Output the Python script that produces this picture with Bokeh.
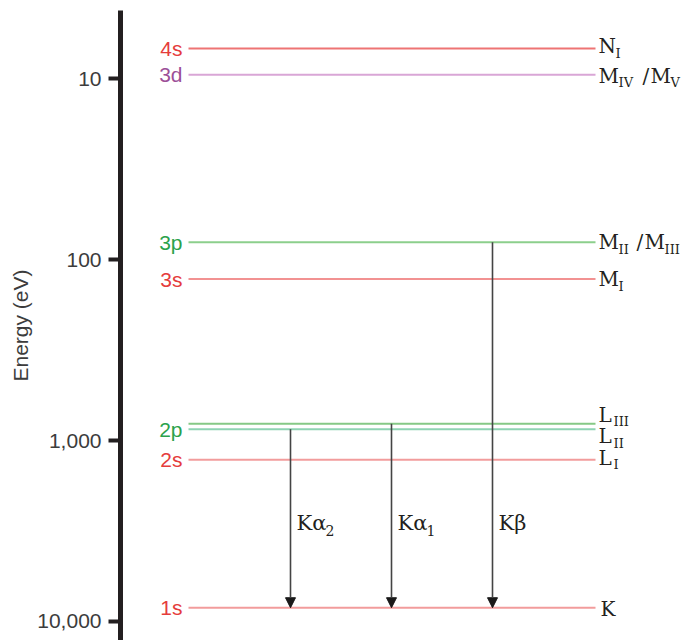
from bokeh.plotting import figure
from bokeh.models import Range1d, FixedTicker, NumeralTickFormatter, Arrow, NormalHead, ColumnDataSource
from bokeh.core.properties import value
from bokeh.embed import file_html
from bokeh.resources import INLINE

# ---------------- data ----------------
orbitals = ["4s", "3d", "3p", "3s", "2p", "2p", "2s", "1s"]
shells = ["NI", "MIV/MV", "MII/MIII", "MI", "LIII", "LII", "LI", "K"]
energies = [6.8, 9.5, 80, 128, 807, 865, 1276, 8395]   # eV (binding energy)

tick_values = [10, 100, 1000, 10000]
tick_labels = ["10", "100", "1,000", "10,000"]

transitions = ["Kα2", "Kα1", "Kβ"]
trans_from = ["LII", "LIII", "MII/MIII"]
trans_to = ["K", "K", "K"]

# ---------------- styles / layout ----------------
W, H = 690, 640
LINE_X0, LINE_X1 = 188, 595
ORB_X = 182
SHELL_X = 598
ARROW_X = [290, 391, 492]
ARROW_LABEL_E = 2872
TEXT_RED, TEXT_GREEN, TEXT_PURPLE = "#e53c3c", "#2ba24c", "#9c4f98"
line_color = {"NI": "#ee7474", "MIV/MV": "#d9a6d6", "MII/MIII": "#8ccf8c", "MI": "#f29292",
              "LIII": "#86c986", "LII": "#8fd3b3", "LI": "#f29c9c", "K": "#f29c9c"}
orb_color = {"s": TEXT_RED, "p": TEXT_GREEN, "d": TEXT_PURPLE}
DARK = "#231f20"

# label pieces: (text, dx from label start, is_subscript)
shell_pieces = {
    "NI": [("N", 0, 0), ("I", 17, 1)],
    "MIV/MV": [("M", 0, 0), ("IV", 20, 1), ("/", 44, 0), ("M", 52, 0), ("V", 72, 1)],
    "MII/MIII": [("M", 0, 0), ("II", 20, 1), ("/", 38, 0), ("M", 46, 0), ("III", 66, 1)],
    "MI": [("M", 0, 0), ("I", 20, 1)],
    "LIII": [("L", 0, 0), ("III", 15, 1)],
    "LII": [("L", 0, 0), ("II", 15, 1)],
    "LI": [("L", 0, 0), ("I", 15, 1)],
    "K": [("K", 2, 0)],
}
shell_dy = {"NI": -2, "MIV/MV": 1, "MII/MIII": 0, "MI": 0, "LIII": -9, "LII": 7, "LI": -2, "K": 1}
trans_pieces = {
    "Kα2": [("Kα", 0, 0), ("2", 29, 1)],
    "Kα1": [("Kα", 0, 0), ("1", 29, 1)],
    "Kβ": [("Kβ", 0, 0)],
}
SUB_DY = 7

p = figure(width=W, height=H, y_axis_type="log",
           x_range=Range1d(120, 690), y_range=Range1d(12740, 4.194),
           output_backend="svg", toolbar_location=None, x_axis_location=None,
           min_border_left=120, min_border_right=0, min_border_top=10, min_border_bottom=0)
p.grid.visible = False
p.outline_line_color = None
p.background_fill_color = "white"
p.border_fill_color = "white"

ax = p.yaxis[0]
ax.ticker = FixedTicker(ticks=tick_values, minor_ticks=[])
ax.formatter = NumeralTickFormatter(format="0,0")
ax.major_label_overrides = {v: l for v, l in zip(tick_values, tick_labels)}
ax.axis_line_width = 5
ax.axis_line_color = DARK
ax.major_tick_line_width = 4
ax.major_tick_line_color = DARK
ax.major_tick_out = 12
ax.major_tick_in = 0
ax.minor_tick_line_color = None
ax.major_label_text_font = "Liberation Sans"
ax.major_label_text_font_size = "21px"
ax.major_label_text_color = "#3c3c3c"
ax.major_label_standoff = 7
ax.axis_label = "Energy (eV)"
ax.axis_label_text_font = "Liberation Sans"
ax.axis_label_text_font_size = "21px"
ax.axis_label_text_font_style = "normal"
ax.axis_label_text_color = "#3c3c3c"
ax.axis_label_standoff = 2

energy_of = dict(zip(shells, energies))

# level lines
for sh, e in zip(shells, energies):
    p.segment(x0=[LINE_X0], y0=[e], x1=[LINE_X1], y1=[e], line_color=line_color[sh], line_width=2)

# orbital labels (one per orbital, last occurrence)
orb_e = {}
for o, e in zip(orbitals, energies):
    orb_e[o] = e
for o, e in orb_e.items():
    p.text(x=[ORB_X], y=[e], text=[o], text_align="right", text_baseline="middle",
           text_font=value("Liberation Sans"), text_font_size="21px", text_color=orb_color[o[-1]])

def draw_pieces(x0, e, pieces, dy, main_size, sub_size):
    for t, dx, sub in pieces:
        p.text(x=[x0 + dx], y=[e], text=[t], text_align="left", text_baseline="middle",
               y_offset=dy + (SUB_DY if sub else 0),
               text_font=value("DejaVu Serif"), text_font_size=sub_size if sub else main_size,
               text_color=DARK)

for sh in shells:
    draw_pieces(SHELL_X, energy_of[sh], shell_pieces[sh], shell_dy[sh], "20px", "13px")

# transitions
src = ColumnDataSource(dict(
    xs=ARROW_X,
    ys=[energy_of[s] for s in trans_from],
    ye=[energy_of[s] for s in trans_to],
))
p.add_layout(Arrow(source=src, x_start="xs", y_start="ys", x_end="xs", y_end="ye",
                   line_color="#444444", line_width=1.6,
                   end=NormalHead(size=10, fill_color="#1a1a1a", line_color="#1a1a1a", line_width=1)))
for x, t in zip(ARROW_X, transitions):
    draw_pieces(x + 6, ARROW_LABEL_E, trans_pieces[t], 0, "21px", "14px")

open("out.html", "w").write(file_html(p, INLINE))
